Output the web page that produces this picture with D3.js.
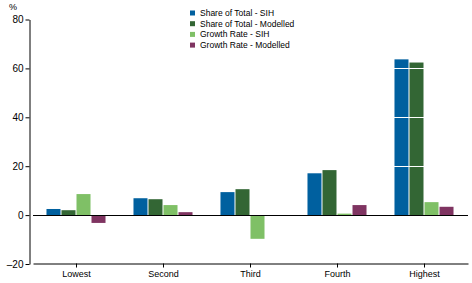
<!DOCTYPE html>
<html>
<head>
<meta charset="utf-8">
<script src="https://cdn.jsdelivr.net/npm/d3@7"></script>
<style>
  body { margin: 0; background: #fff; }
  svg text { font-family: "Liberation Sans", Arial, sans-serif; font-size: 8.5px; fill: #000; }
</style>
</head>
<body>
<svg class="barchart" width="472" height="283"></svg>
<script>
const categories = ["Lowest", "Second", "Third", "Fourth", "Highest"];
const seriesNames = ["Share of Total - SIH", "Share of Total - Modelled", "Growth Rate - SIH", "Growth Rate - Modelled"];
const shareSIH = [2.5, 6.9, 9.4, 17.1, 63.7];
const shareModelled = [2.0, 6.5, 10.6, 18.4, 62.4];
const growthSIH = [8.6, 4.1, -9.7, 0.6, 5.3];
const growthModelled = [-3.2, 1.2, 0, 4.1, 3.4];
const yTicks = [-20, 0, 20, 40, 60, 80];
const colours = ["#00609f", "#336634", "#7fc066", "#7f3461"];

(function barChartIIFE(){
    const svg = d3.select("svg.barchart");
    const left = 33, right = 468, top = 19.5, bottom = 264;
    const allSeries = [shareSIH, shareModelled, growthSIH, growthModelled];

    const x = d3.scaleBand().domain(categories).range([left, right])
        .paddingInner(0.31).paddingOuter(0.155);
    const x1 = d3.scaleBand().domain(seriesNames).range([0, x.bandwidth()]);
    const y = d3.scaleLinear().domain([-20, 80]).range([bottom, top]);

    // bars
    allSeries.forEach(function(vals, i) {
        svg.append("g").selectAll("rect")
            .data(vals)
            .enter().append("rect")
            .attr("x", function(d, j) { return x(categories[j]) + x1(seriesNames[i]); })
            .attr("width", x1.bandwidth() - 1)
            .attr("y", function(d) { return Math.min(y(d), y(0)); })
            .attr("height", function(d) { return Math.abs(y(d) - y(0)); })
            .attr("fill", colours[i]);
    });

    // white gridlines over bars
    svg.append("g").selectAll("line")
        .data([20, 40, 60])
        .enter().append("line")
        .attr("x1", left).attr("x2", right)
        .attr("y1", function(d) { return Math.round(y(d)) + 0.5; })
        .attr("y2", function(d) { return Math.round(y(d)) + 0.5; })
        .attr("stroke", "#fff");

    // zero line
    svg.append("line")
        .attr("x1", left).attr("x2", right)
        .attr("y1", Math.round(y(0)) + 0.5).attr("y2", Math.round(y(0)) + 0.5)
        .attr("stroke", "#000");

    // y axis
    const yAxis = svg.append("g")
        .attr("transform", "translate(29.5,0)")
        .call(d3.axisLeft(y).tickValues(yTicks).tickSize(4).tickSizeOuter(0)
            .tickFormat(function(d) { return d < 0 ? "\u2013" + (-d) : d; }));
    yAxis.select(".domain").attr("stroke", "#000");
    yAxis.selectAll(".tick line").attr("stroke", "#000");
    yAxis.selectAll(".tick text").attr("x", -6).style("font-size", "10px");

    // x axis
    const xAxis = svg.append("g")
        .attr("transform", "translate(0," + (Math.round(bottom) - 0.5) + ")")
        .call(d3.axisBottom(x).tickSize(4).tickSizeOuter(0));
    xAxis.select(".domain").attr("stroke", "#000");
    xAxis.selectAll(".tick line").attr("stroke", "#000");
    xAxis.selectAll(".tick text").attr("y", 7).style("font-size", "9px");

    svg.append("text").attr("x", 9).attr("y", 10).style("font-size", "9px").text("%");

    // legend
    const legend = svg.append("g").selectAll("g")
        .data(seriesNames)
        .enter().append("g")
        .attr("transform", function(d, i) { return "translate(190," + (10.5 + i * 10.7) + ")"; });
    legend.append("rect").attr("width", 5).attr("height", 5).attr("fill", function(d, i) { return colours[i]; });
    legend.append("text").attr("x", 10).attr("y", 5.5).text(function(d) { return d; });
})();
</script>
</body>
</html>
